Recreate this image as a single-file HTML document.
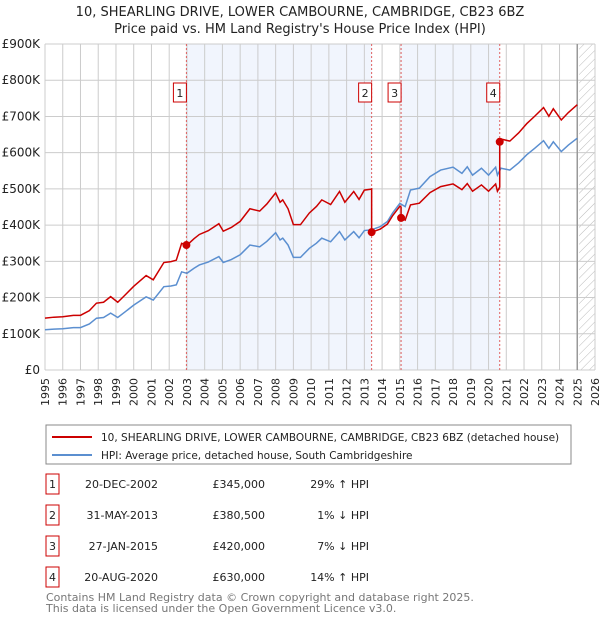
<!DOCTYPE html>
<html><head><meta charset="utf-8">
<style>
body{margin:0;background:#fff;font-family:"DejaVu Sans","Liberation Sans",sans-serif;}
svg{display:block}
</style></head>
<body>
<svg width="600" height="620" xmlns="http://www.w3.org/2000/svg" id="chart">
<defs>
<pattern id="hatch" width="6" height="6" patternUnits="userSpaceOnUse" patternTransform="rotate(45)">
<line x1="0" y1="0" x2="0" y2="6" stroke="#bbb" stroke-width="1"/>
</pattern>
</defs>
<text x="300" y="16" text-anchor="middle" font-size="13" fill="#222">10, SHEARLING DRIVE, LOWER CAMBOURNE, CAMBRIDGE, CB23 6BZ</text>
<text x="300" y="33" text-anchor="middle" font-size="13" fill="#222">Price paid vs. HM Land Registry's House Price Index (HPI)</text>
<g id="plot"></g>
<rect x="46" y="425" width="525" height="39" fill="#fff" stroke="#888"/>
<line x1="52" y1="437" x2="92" y2="437" stroke="#cc0000" stroke-width="2"/>
<text x="101" y="441" font-size="10.5" fill="#222">10, SHEARLING DRIVE, LOWER CAMBOURNE, CAMBRIDGE, CB23 6BZ (detached house)</text>
<line x1="52" y1="455" x2="92" y2="455" stroke="#5b8fd0" stroke-width="2"/>
<text x="101" y="459" font-size="10.5" fill="#222">HPI: Average price, detached house, South Cambridgeshire</text>
<g id="table" font-size="11" fill="#222"></g>
<text x="46" y="601" font-size="11" fill="#777">Contains HM Land Registry data © Crown copyright and database right 2025.</text>
<text x="46" y="612" font-size="11" fill="#777">This data is licensed under the Open Government Licence v3.0.</text>
</svg>
<script>
const hpiYears=[1995,1995.5,1996,1996.6,1997,1997.5,1997.9,1998.3,1998.7,1999.1,1999.5,2000,2000.7,2001.1,2001.7,2002.1,2002.4,2002.7,2003,2003.4,2003.7,2004.2,2004.8,2005.05,2005.5,2006,2006.55,2007.1,2007.5,2008,2008.25,2008.4,2008.7,2009,2009.4,2009.9,2010.3,2010.6,2011.1,2011.6,2011.9,2012.4,2012.7,2013.0,2013.4,2013.9,2014.3,2014.6,2015,2015.3,2015.6,2016.1,2016.7,2017.3,2018,2018.5,2018.8,2019.1,2019.6,2020,2020.4,2020.5,2020.7,2021.2,2021.7,2022.15,2022.6,2023.1,2023.4,2023.65,2024.1,2024.5,2025];
const hpiValues=[111,113,114,117,117,127,143,145,157,145,160,179,202,193,230,232,235,271,267,281,290,298,313,297,305,318,345,340,355,379,359,364,345,311,311,336,350,364,354,382,359,382,365,385,387,396,410,434,460,451,497,502,534,552,560,543,561,538,557,538,560,538,557,552,572,594,612,633,612,630,603,621,640];
const saleDates=[2002.97,2013.41,2015.07,2020.63];
const salePrices=[345,380.5,420,630];
const saleLabels=["1","2","3","4"];
const saleDateText=["20-DEC-2002","31-MAY-2013","27-JAN-2015","20-AUG-2020"];
const salePriceText=["£345,000","£380,500","£420,000","£630,000"];
const saleHpiText=["29% ↑ HPI","1% ↓ HPI","7% ↓ HPI","14% ↑ HPI"];
const yTicks=[0,100,200,300,400,500,600,700,800,900];
const yTickLabels=["£0","£100K","£200K","£300K","£400K","£500K","£600K","£700K","£800K","£900K"];

const X0=45,X1=595,Y0=370,Y1=44;
const xs=y=>X0+(y-1995)/31*(X1-X0);
const ys=v=>Y0-v/900*(Y0-Y1);
const NS="http://www.w3.org/2000/svg";
const plot=document.getElementById('plot');
function mk(tag,attrs,parent){const e=document.createElementNS(NS,tag);for(const k in attrs)e.setAttribute(k,attrs[k]);(parent||plot).appendChild(e);return e;}
function hpiAt(t){for(let i=1;i<hpiYears.length;i++){if(t<=hpiYears[i]){const a=hpiYears[i-1],b=hpiYears[i];return hpiValues[i-1]+(hpiValues[i]-hpiValues[i-1])*(t-a)/(b-a);}}return hpiValues[hpiValues.length-1];}

let bg=mk('rect',{x:X0,y:Y1,width:X1-X0,height:Y0-Y1,fill:'#fff'});


for(let i=0;i<saleDates.length;i+=2){
  const end=saleDates[i+1];
  let r=mk('rect',{x:xs(saleDates[i]),y:Y1,width:xs(end)-xs(saleDates[i]),height:Y0-Y1,fill:'#eef2fc',opacity:0.8});
  
  
}
let h=mk('rect',{x:xs(2025.1),y:Y1,width:X1-xs(2025.1),height:Y0-Y1,fill:'url(#hatch)'});


for(let yr=1995;yr<=2026;yr++){
  let l=mk('line',{x1:xs(yr),x2:xs(yr),y1:Y1,y2:Y0,stroke:'#ccc','stroke-width':1});
  
  
  let t=mk('text',{x:0,y:0,'font-size':11,fill:'#222','text-anchor':'end',transform:`translate(${xs(yr)+4},378) rotate(-90)`});
  t.textContent=yr;
  
  
}
yTicks.forEach((v,i)=>{
  let l=mk('line',{x1:X0,x2:X1,y1:ys(v),y2:ys(v),stroke:'#ccc','stroke-width':1});
  
  
  let t=mk('text',{x:40,y:ys(v)+4,'font-size':12,fill:'#222','text-anchor':'end'});
  t.textContent=yTickLabels[i];
  
  
});
let nl=mk('line',{x1:xs(2025),x2:xs(2025),y1:Y1,y2:Y0,stroke:'#999','stroke-width':1.5});


saleDates.forEach((d,i)=>{
  let l=mk('line',{x1:xs(d),x2:xs(d),y1:Y1,y2:Y0,stroke:'#e06060','stroke-width':1,'stroke-dasharray':'2,2'});
  
  
  let g=mk('g',{});
  
  
  mk('rect',{x:xs(d)-13,y:83,width:13,height:19,fill:'#fff',stroke:'#cc0000'},g);
  let t=mk('text',{x:xs(d)-6.5,y:97,'font-size':11,fill:'#222','text-anchor':'middle'},g);
  t.textContent=saleLabels[i];
});
let pts=hpiYears.map((y,i)=>xs(y)+','+ys(hpiValues[i])).join(' ');
let hp=mk('polyline',{points:pts,fill:'none',stroke:'#5b8fd0','stroke-width':1.5});


const ratios=saleDates.map((d,j)=>salePrices[j]/hpiAt(d));
let rp=[];
hpiYears.forEach((y,i)=>{
  if(i>0){
    for(let j=0;j<saleDates.length;j++){
      if(hpiYears[i-1]<saleDates[j]&&y>=saleDates[j]){
        const kp=Math.max(0,j-1);
        rp.push([saleDates[j],hpiAt(saleDates[j])*ratios[kp]]);
        rp.push([saleDates[j],salePrices[j]]);
      }
    }
  }
  let k=0;for(let j=0;j<saleDates.length;j++)if(y>=saleDates[j])k=j;
  rp.push([y,hpiValues[i]*ratios[k]]);
});
let rl=mk('polyline',{points:rp.map(p=>xs(p[0])+','+ys(p[1])).join(' '),fill:'none',stroke:'#cc0000','stroke-width':1.5});


saleDates.forEach((d,i)=>{
  let c=mk('circle',{cx:xs(d),cy:ys(salePrices[i]),r:4,fill:'#cc0000'});
  
  
});
const tb=document.getElementById('table');
const rowY=[484,515,546,577];
saleDates.forEach((d,i)=>{
  const y=rowY[i];
  let g=mk('g',{},tb);
  
  
  mk('rect',{x:46,y:y-10,width:13,height:20,fill:'#fff',stroke:'#cc0000'},g);
  let n=mk('text',{x:52.5,y:y+4,'text-anchor':'middle'},g);n.textContent=saleLabels[i];
  let a=mk('text',{x:158,y:y+4,'text-anchor':'end'},g);a.textContent=saleDateText[i];
  let b=mk('text',{x:265,y:y+4,'text-anchor':'end'},g);b.textContent=salePriceText[i];
  let c=mk('text',{x:369,y:y+4,'text-anchor':'end'},g);c.textContent=saleHpiText[i];
});
</script>
</body></html>
